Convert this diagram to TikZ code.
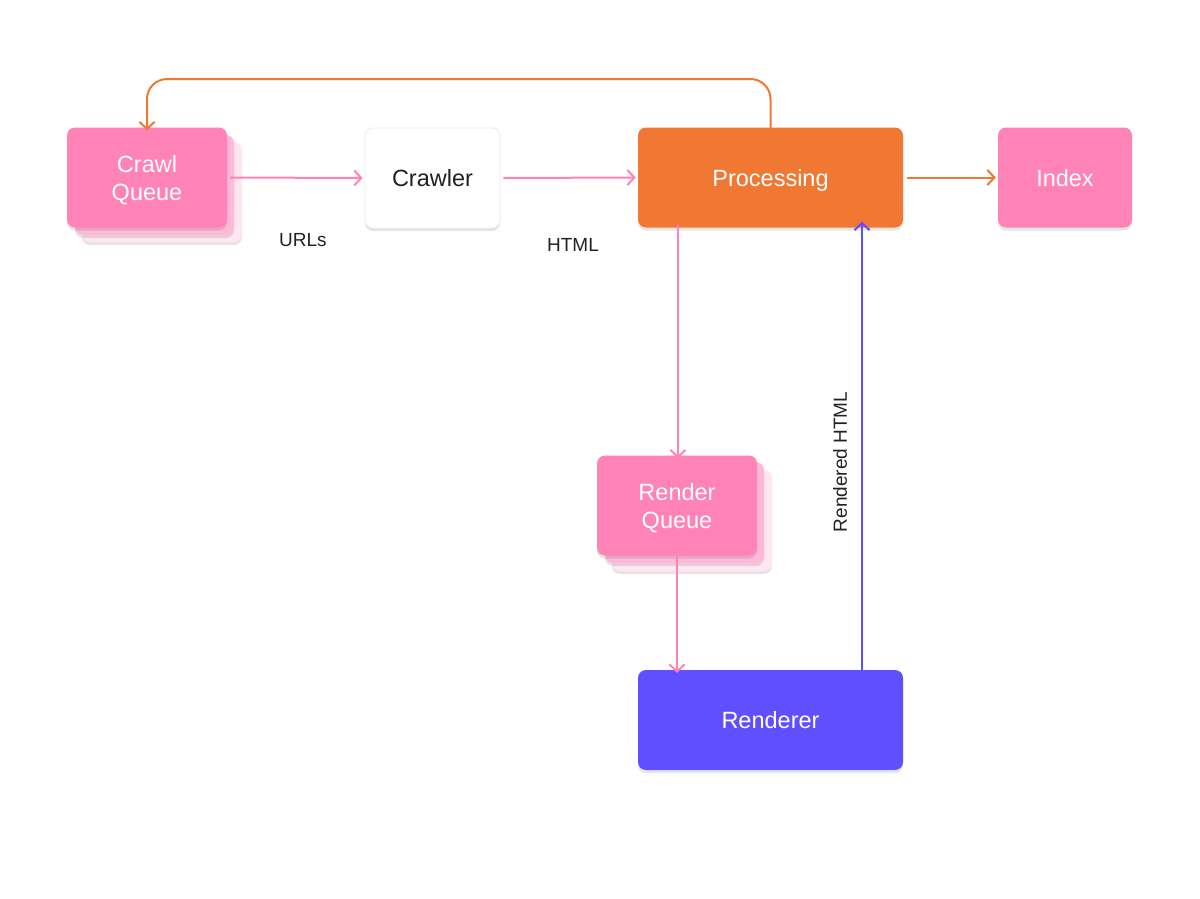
\documentclass[tikz,border=0pt]{standalone}
\usepackage{fontspec}
\setmainfont{Liberation Sans}
\usetikzlibrary{arrows.meta,shadows}
\definecolor{qpink}{HTML}{FF83B6}
\definecolor{qpink2}{HTML}{FFB9D7}
\definecolor{qpink3}{HTML}{FFE6F0}
\definecolor{porange}{HTML}{F07832}
\definecolor{rblue}{HTML}{5F4FFF}
\definecolor{txt}{HTML}{222222}
\tikzset{
  box/.style={rounded corners=8pt, minimum width=#1, minimum height=100pt, inner sep=0pt,
    align=center, font=\fontsize{23.5}{28}\selectfont, text depth=0pt,
    drop shadow={shadow xshift=0pt, shadow yshift=-3pt, opacity=0.10, fill=black}},
  layer/.style={rounded corners=8pt, fill=#1,
    drop shadow={shadow xshift=0pt, shadow yshift=-3pt, opacity=0.10, fill=black}},
  conn/.style={line width=2pt, -{Straight Barb[length=7pt,width=15pt]}},
  lbl/.style={font=\fontsize{19}{22}\selectfont, text=txt, inner sep=0pt}
}
\begin{document}
\begin{tikzpicture}[x=1pt,y=-1pt]
\useasboundingbox (0,0) rectangle (1200,898);
\fill[white] (0,0) rectangle (1200,898);
% stacked layers
\path[layer=qpink3] (82,142) rectangle (242,242);
\path[layer=qpink2] (75,135) rectangle (234,235);
\path[layer=qpink3] (612,470) rectangle (772,571);
\path[layer=qpink2] (605,462) rectangle (764,563);
% nodes
\node[box=160pt, fill=qpink, text=white] (cq) at (147,177.5) {Crawl\\Queue};
\node[box=135pt, fill=white, draw=black!7, line width=0.8pt, text=txt] (cr) at (432.5,178) {Crawler};
\node[box=265pt, fill=porange, text=white] (pr) at (770.5,177.5) {Processing};
\node[box=134pt, fill=qpink, text=white] (ix) at (1065,177.5) {Index};
\node[box=160pt, fill=qpink, text=white] (rq) at (677,505.5) {Render\\Queue};
\node[box=265pt, fill=rblue, text=white] (rr) at (770.5,720) {Renderer};
\coordinate (top) at (0,79);
% connectors
\draw[conn, qpink] ([xshift=3pt]cq.east) -- ([xshift=-2pt]cr.west);
\draw[conn, qpink] ([xshift=3pt]cr.east) -- ([xshift=-2pt]pr.west);
\draw[conn, porange] ([xshift=4pt]pr.east) -- ([xshift=-2pt]ix.west);
\draw[conn, qpink] ([xshift=-92.5pt,yshift=4pt]pr.south) -- ([xshift=1pt,yshift=-3pt]rq.north);
\draw[conn, qpink] ([yshift=5pt]rq.south) -- ([xshift=-93.5pt,yshift=-3pt]rr.north);
\draw[conn, rblue] ([xshift=91.5pt,yshift=-5pt]rr.north) -- ([xshift=91.5pt,yshift=6pt]pr.south);
\draw[conn, porange, rounded corners=20pt] ([yshift=-2pt]pr.north) -- (pr.north |- top) -| ([yshift=-3pt]cq.north);
% labels
\node[lbl] (l1) at (303,240) {URLs};
\node[lbl] (l2) at (573,245) {HTML};
\node[lbl, rotate=90] (l3) at (840,462) {Rendered HTML};
\end{tikzpicture}
\end{document}
